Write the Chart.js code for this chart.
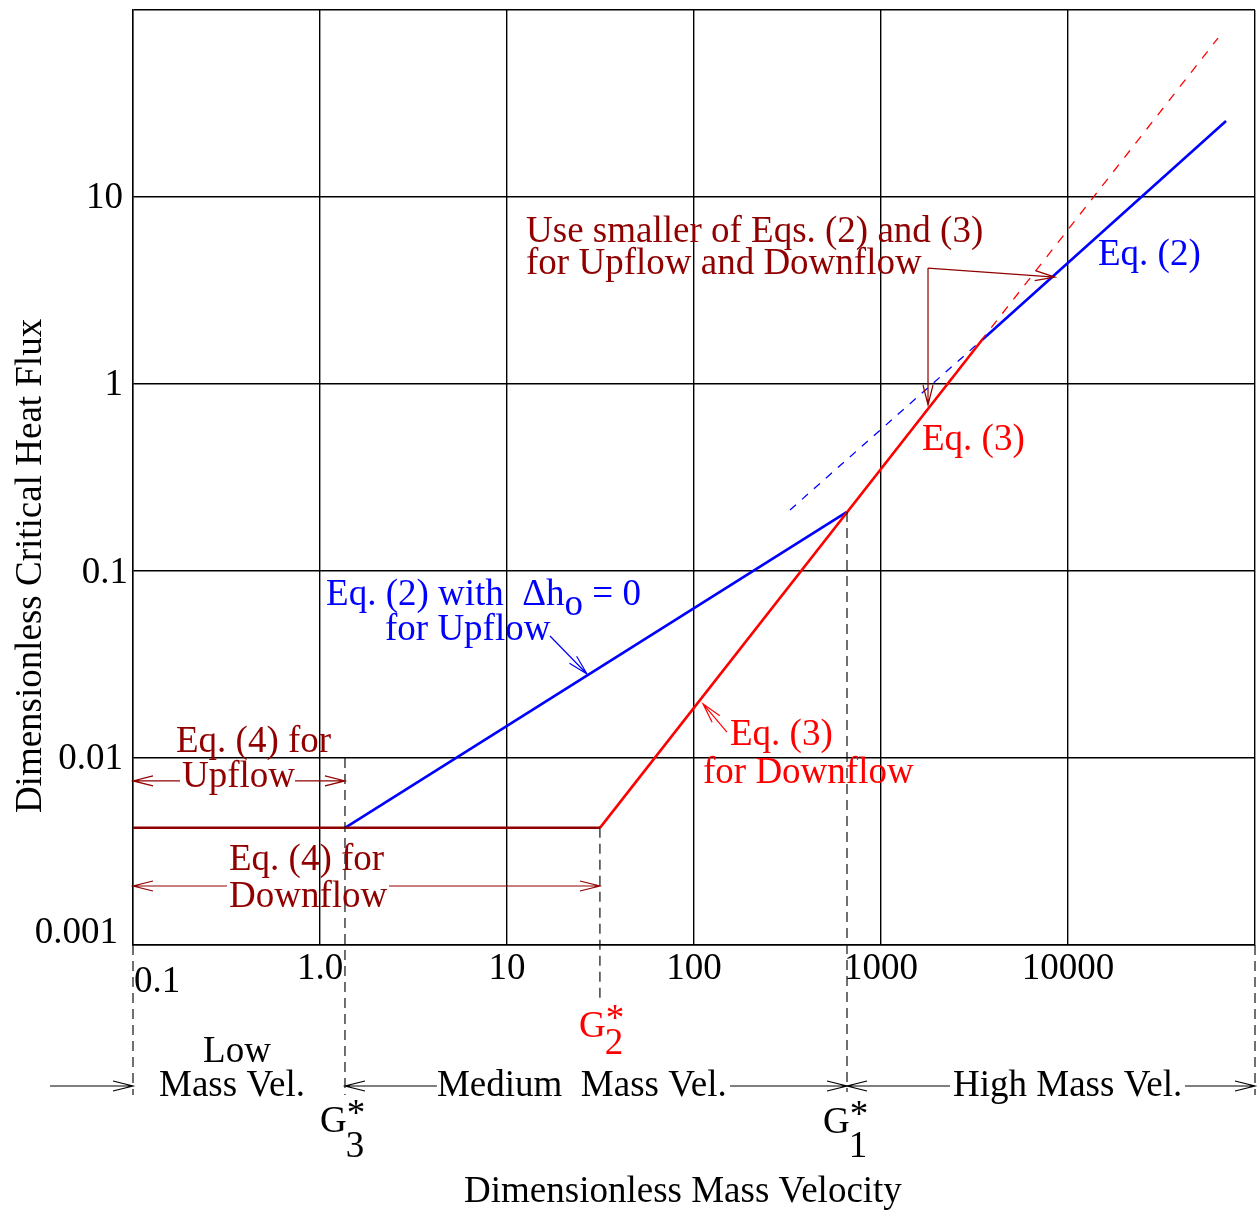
<!DOCTYPE html>
<html>
<head>
<meta charset="utf-8">
<script src="https://cdn.jsdelivr.net/npm/chart.js@4.4.1/dist/chart.umd.min.js"></script>
<style>
  html, body { margin: 0; padding: 0; background: #fff; }
  #wrap { width: 1258px; height: 1211px; position: relative; }
</style>
</head>
<body>
<div id="wrap"><canvas id="chf"></canvas></div>
<script>
// CHF regime map: dimensionless critical heat flux vs dimensionless mass velocity (log-log)

// ─── Data ─────────────────────────────────────────────────────────────────────
const xTicks      = [0.1, 1, 10, 100, 1000, 10000, 100000];
const xTickLabels = ['0.1', '1.0', '10', '100', '1000', '10000', ''];
const yTicks      = [0.001, 0.01, 0.1, 1, 10, 100];
const yTickLabels = ['0.001', '0.01', '0.1', '1', '10', ''];

// critical mass velocities and the Eq. (4) plateau
const G3 = 1.36, G2 = 31.4, G1 = 658;
const qEq4 = 0.00423;

const eq4X    = [0.1, G2];     const eq4Y    = [qEq4, qEq4];     // Eq. (4)
const eq2UpX  = [G3, G1];      const eq2UpY  = [qEq4, 0.207];    // Eq. (2), dh_o = 0
const eq3X    = [G2, 3467];    const eq3Y    = [qEq4, 1.72];     // Eq. (3)
const eq3ExtX = [G1, 63400];   const eq3ExtY = [0.207, 70.8];    // Eq. (3) continued
const eq2X    = [3467, 70000]; const eq2Y    = [1.72, 25.5];     // Eq. (2)
const eq2ExtX = [326, 3467];   const eq2ExtY = [0.212, 1.72];    // Eq. (2) continued

// ─── Styles ───────────────────────────────────────────────────────────────────
const FONT    = '37px "Liberation Serif", "Times New Roman", serif';
const BLUE    = '#0000ff';
const RED     = '#ff0000';
const DARKRED = '#900000';

const pts = (xs, ys) => xs.map((x, i) => ({ x, y: ys[i] }));

function line(xs, ys, color, width, dash, order) {
  return {
    data: pts(xs, ys),
    showLine: true,
    borderColor: color,
    borderWidth: width,
    borderDash: dash || [],
    pointRadius: 0,
    fill: false,
    tension: 0,
    order,
  };
}

// ─── Drawing helpers ──────────────────────────────────────────────────────────
function arrow(ctx, x1, y1, x2, y2, color) {
  const a = Math.atan2(y2 - y1, x2 - x1), L = 20, W = 5;
  const c = Math.cos(a), s = Math.sin(a);
  ctx.save();
  ctx.strokeStyle = color;
  ctx.lineWidth = 1.2;
  ctx.beginPath();
  ctx.moveTo(x1, y1);
  ctx.lineTo(x2, y2);
  ctx.moveTo(x2 - L * c + W * s, y2 - L * s - W * c);
  ctx.lineTo(x2, y2);
  ctx.lineTo(x2 - L * c - W * s, y2 - L * s + W * c);
  ctx.stroke();
  ctx.restore();
}

function text(ctx, str, x, y, color, align) {
  ctx.fillStyle = color;
  ctx.textAlign = align || 'left';
  ctx.fillText(str, x, y);
}

function vdash(ctx, x, y1, y2) {
  ctx.save();
  ctx.strokeStyle = '#111';
  ctx.lineWidth = 1.2;
  ctx.setLineDash([10, 6]);
  ctx.beginPath();
  ctx.moveTo(x, y1);
  ctx.lineTo(x, y2);
  ctx.stroke();
  ctx.restore();
}

// G*_n label: G, superscript star, subscript index
function gLabel(ctx, left, base, sub, color, subDy) {
  text(ctx, 'G', left, base, color);
  const x = left + ctx.measureText('G').width;
  text(ctx, '*', x, base - 7, color);
  text(ctx, sub, x - 1, base + subDy, color);
}

// ─── Annotation plugin ────────────────────────────────────────────────────────
const annotate = {
  id: 'annotate',
  afterDatasetsDraw(chart) {
    const { ctx, chartArea: a, scales: { x, y } } = chart;
    const X = v => x.getPixelForValue(v);
    const Y = v => y.getPixelForValue(v);
    const bot = a.bottom;

    ctx.save();
    ctx.font = FONT;
    ctx.textBaseline = 'alphabetic';

    // tick labels
    yTicks.forEach((v, i) => {
      const lbl = yTickLabels[i];
      if (!lbl) return;
      if (lbl === '0.001') text(ctx, lbl, a.left - 15, Y(v) - 2, '#000', 'right');
      else if (lbl === '0.1') text(ctx, lbl, a.left - 5, Y(v) + 12, '#000', 'right');
      else text(ctx, lbl, a.left - 10, Y(v) + 11, '#000', 'right');
    });
    xTicks.forEach((v, i) => {
      const lbl = xTickLabels[i];
      if (!lbl) return;
      if (lbl === '0.1') text(ctx, lbl, X(v) + 1, bot + 47, '#000', 'left');
      else text(ctx, lbl, X(v), bot + 34, '#000', 'center');
    });

    // regime boundaries
    vdash(ctx, X(0.1), bot, bot + 150);
    vdash(ctx, X(G3), Y(0.01), bot + 150);
    vdash(ctx, X(G2), Y(qEq4), bot + 58);
    vdash(ctx, X(G1), Y(eq2UpY[1]), bot + 147);
    vdash(ctx, X(100000), bot, bot + 150);

    // regime arrows
    const ay = bot + 141;
    arrow(ctx, X(0.036), ay, X(0.1), ay, '#000');
    arrow(ctx, X(4.22), ay, X(G3), ay, '#000');
    arrow(ctx, X(155.8), ay, X(G1), ay, '#000');
    arrow(ctx, X(2339), ay, X(G1), ay, '#000');
    arrow(ctx, X(42240), ay, X(100000), ay, '#000');

    text(ctx, 'Low', X(0.3598), bot + 117, '#000', 'center');
    text(ctx, 'Mass Vel.', X(0.3384), bot + 151, '#000', 'center');
    text(ctx, 'Medium  Mass Vel.', X(4.22), bot + 151, '#000', 'left');
    text(ctx, 'High Mass Vel.', X(2427), bot + 151, '#000', 'left');

    gLabel(ctx, X(G2) - 21, bot + 92, '2', RED, 17);
    gLabel(ctx, X(G3) - 25, bot + 187, '3', '#000', 25);
    gLabel(ctx, X(G1) - 24, bot + 188, '1', '#000', 24);

    // axis titles
    text(ctx, 'Dimensionless Mass Velocity', X(87.3), bot + 257, '#000', 'center');
    ctx.save();
    ctx.translate(41, Y(0.1064));
    ctx.rotate(-Math.PI / 2);
    text(ctx, 'Dimensionless Critical Heat Flux', 0, 0, '#000', 'center');
    ctx.restore();

    // Use smaller of ...
    text(ctx, 'Use smaller of Eqs. (2) and (3)', X(12.64), Y(5.75), DARKRED);
    text(ctx, 'for Upflow and Downflow', X(12.64), Y(3.87), DARKRED);
    arrow(ctx, X(1784), Y(4.17), X(8520), Y(3.73), DARKRED);
    arrow(ctx, X(1784), Y(4.17), X(1784), Y(0.772), DARKRED);

    text(ctx, 'Eq. (2)', X(14470), Y(4.33), BLUE);
    text(ctx, 'Eq. (3)', X(1657), Y(0.4436), RED);

    // Eq. (2) with dh_o = 0
    let tx = X(1.077), ty = Y(0.0658);
    const s1 = 'Eq. (2) with  \u0394h';
    text(ctx, s1, tx, ty, BLUE);
    tx += ctx.measureText(s1).width;
    text(ctx, 'o', tx, ty + 10, BLUE);
    tx += ctx.measureText('o').width;
    text(ctx, ' = 0', tx, ty, BLUE);
    text(ctx, 'for Upflow', X(2.226), Y(0.0428), BLUE);
    arrow(ctx, X(16.98), Y(0.0449), X(26.78), Y(0.02813), BLUE);

    // Eq. (3) for Downflow
    text(ctx, 'Eq. (3)', X(155.8), Y(0.01174), RED);
    text(ctx, 'for Downflow', X(111.7), Y(0.007351), RED);
    arrow(ctx, X(150.1), Y(0.01377), X(111.7), Y(0.0195), RED);

    // Eq. (4) for Upflow
    text(ctx, 'Eq. (4) for', X(0.1698), Y(0.01076), DARKRED);
    text(ctx, 'Upflow', X(0.1828), Y(0.007003), DARKRED);
    arrow(ctx, X(0.1784), Y(0.00754), X(0.1), Y(0.00754), DARKRED);
    arrow(ctx, X(0.735), Y(0.00754), X(G3), Y(0.00754), DARKRED);

    // Eq. (4) for Downflow
    text(ctx, 'Eq. (4) for', X(0.326), Y(0.002518), DARKRED);
    text(ctx, 'Downflow', X(0.326), Y(0.001597), DARKRED);
    arrow(ctx, X(0.318), Y(0.002068), X(0.1), Y(0.002068), DARKRED);
    arrow(ctx, X(2.339), Y(0.002068), X(G2), Y(0.002068), DARKRED);

    ctx.restore();
  },
};

// ─── Chart ────────────────────────────────────────────────────────────────────
const decadeTicks = vals => scale => { scale.ticks = vals.map(v => ({ value: v })); };

new Chart(document.getElementById('chf'), {
  type: 'scatter',
  data: {
    datasets: [
      line(eq4X, eq4Y, DARKRED, 2.5, null, 1),
      line(eq3ExtX, eq3ExtY, RED, 1.3, [9, 9], 2),
      line(eq3X, eq3Y, RED, 2.6, null, 3),
      line(eq2UpX, eq2UpY, BLUE, 2.6, null, 4),
      line(eq2X, eq2Y, BLUE, 2.6, null, 5),
      line(eq2ExtX, eq2ExtY, BLUE, 1.3, [8, 8], 6),
    ],
  },
  options: {
    responsive: true,
    maintainAspectRatio: false,
    animation: false,
    layout: { padding: { left: 133, top: 10, right: 3, bottom: 266 } },
    plugins: { legend: { display: false }, tooltip: { enabled: false } },
    scales: {
      x: {
        type: 'logarithmic',
        min: 0.1,
        max: 100000,
        afterBuildTicks: decadeTicks(xTicks),
        ticks: { display: false },
        grid: { color: '#000', lineWidth: 1.4, drawTicks: false },
        border: { display: true, color: '#000', width: 1.4 },
      },
      y: {
        type: 'logarithmic',
        min: 0.001,
        max: 100,
        afterBuildTicks: decadeTicks(yTicks),
        ticks: { display: false },
        grid: { color: '#000', lineWidth: 1.4, drawTicks: false },
        border: { display: true, color: '#000', width: 1.4 },
      },
    },
  },
  plugins: [annotate],
});
</script>
</body>
</html>
